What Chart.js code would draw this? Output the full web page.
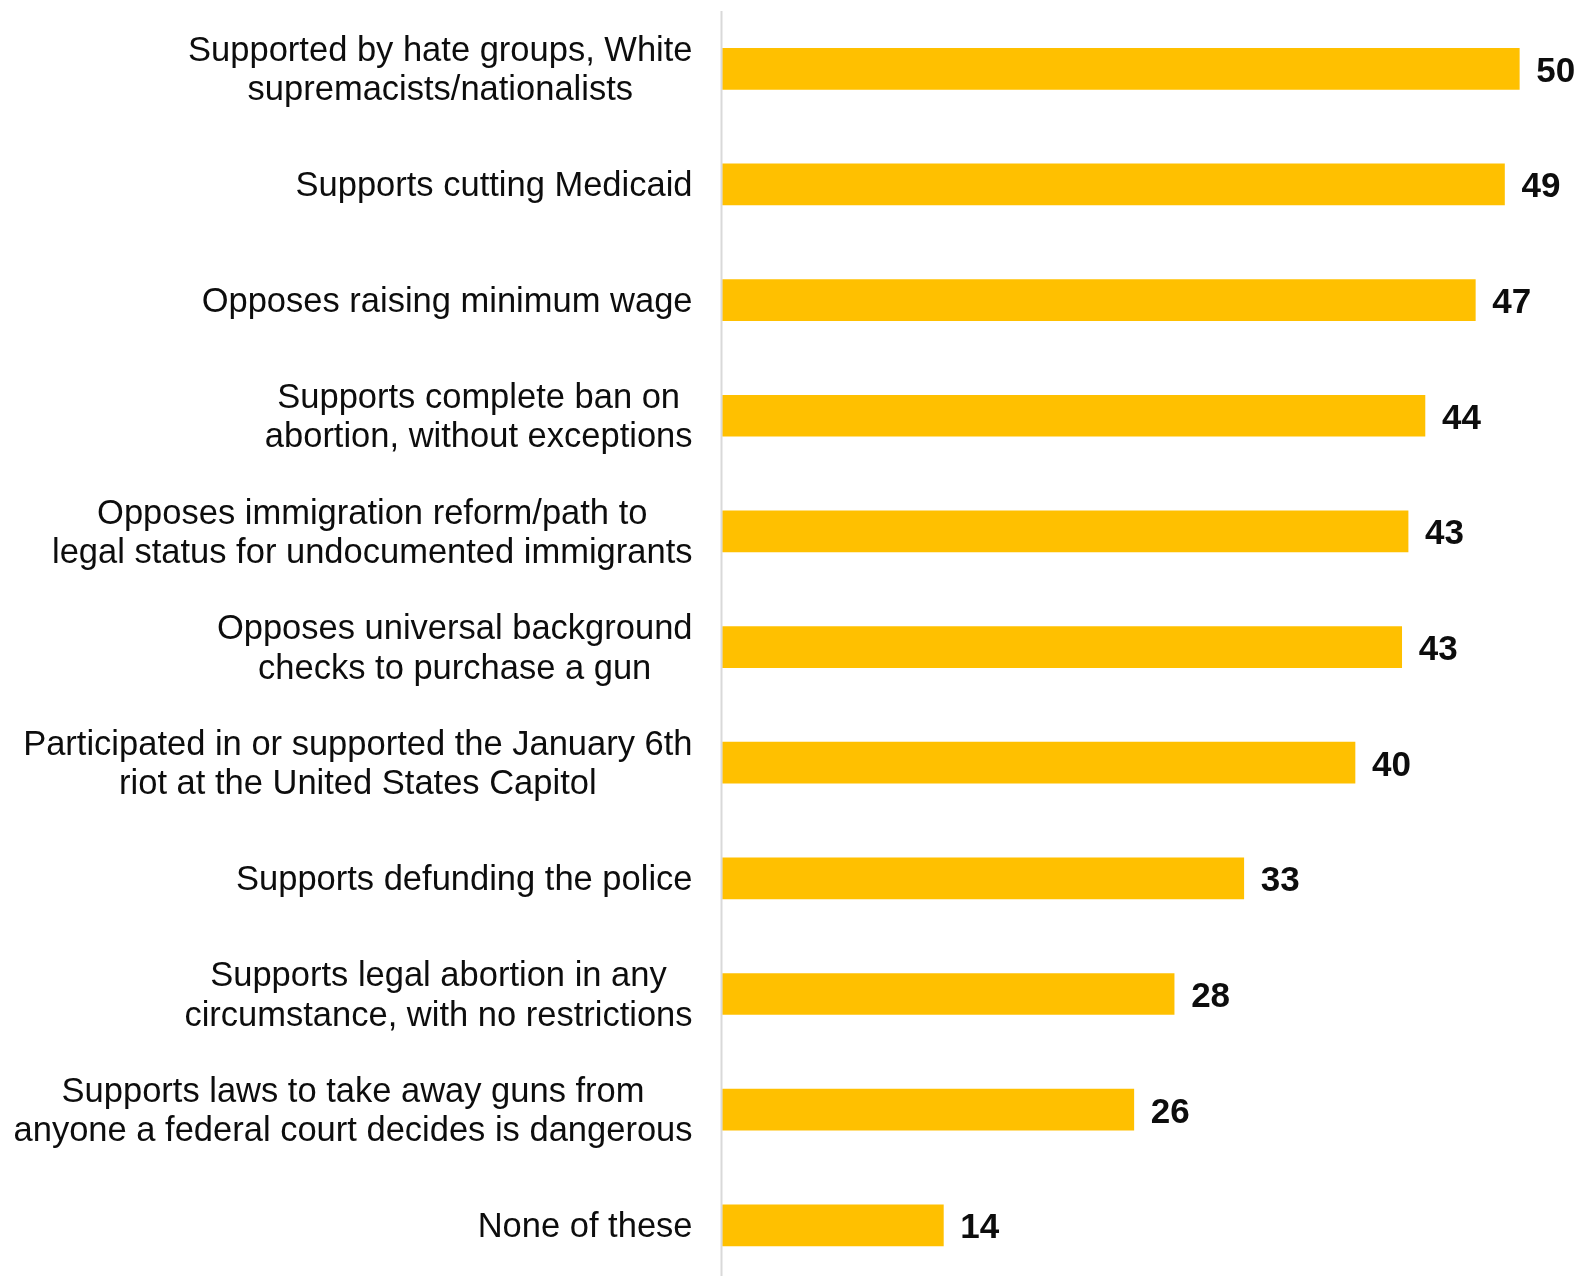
<!DOCTYPE html>
<html>
<head>
<meta charset="utf-8">
<script src="https://cdn.jsdelivr.net/npm/chart.js@4/dist/chart.umd.min.js"></script>
<style>
html,body{margin:0;padding:0;background:#fff;overflow:hidden;}
#wrap{width:1580px;height:1276px;position:relative;}
</style>
</head>
<body>
<div id="wrap"><canvas id="c" width="1580" height="1276"></canvas></div>
<script>
const categories = [
  ["Supported by hate groups, White", "supremacists/nationalists"],
  ["Supports cutting Medicaid"],
  ["Opposes raising minimum wage"],
  ["Supports complete ban on ", "abortion, without exceptions"],
  ["Opposes immigration reform/path to ", "legal status for undocumented immigrants"],
  ["Opposes universal background", "checks to purchase a gun"],
  ["Participated in or supported the January 6th", "riot at the United States Capitol"],
  ["Supports defunding the police"],
  ["Supports legal abortion in any", "circumstance, with no restrictions"],
  ["Supports laws to take away guns from", "anyone a federal court decides is dangerous"],
  ["None of these"]
];
// bar lengths (unrounded)
const values = [50, 49.07, 47.24, 44.08, 43.02, 42.62, 39.69, 32.71, 28.34, 25.81, 13.86];
// printed value labels
const valueLabels = ["50", "49", "47", "44", "43", "43", "40", "33", "28", "26", "14"];

const FONT = "'Liberation Sans', Arial, sans-serif";

const customDraw = {
  id: 'customDraw',
  afterDatasetsDraw(chart) {
    const ctx = chart.ctx;
    const area = chart.chartArea;
    const yScale = chart.scales.y;
    const meta = chart.getDatasetMeta(0);
    ctx.save();
    // axis line
    ctx.strokeStyle = '#d9d9d9';
    ctx.lineWidth = 2;
    ctx.beginPath();
    ctx.moveTo(area.left - 1, 11);
    ctx.lineTo(area.left - 1, chart.height);
    ctx.stroke();
    // category labels (block right-aligned, lines centered)
    ctx.fillStyle = '#0d0d0d';
    ctx.font = '34.5px ' + FONT;
    ctx.textBaseline = 'alphabetic';
    ctx.textAlign = 'center';
    const lh = 39.3;
    const rightEdge = area.left - 30;
    categories.forEach((lines, i) => {
      const yc = yScale.getPixelForValue(i);
      let maxW = 0;
      lines.forEach(l => { maxW = Math.max(maxW, ctx.measureText(l.trimEnd()).width); });
      const cx = rightEdge - maxW / 2;
      lines.forEach((l, j) => {
        const y = yc + 12 + (j - (lines.length - 1) / 2) * lh;
        ctx.fillText(l.trimEnd(), cx, y);
      });
    });
    // value labels
    ctx.font = 'bold 35px ' + FONT;
    ctx.textAlign = 'left';
    ctx.fillStyle = '#0d0d0d';
    meta.data.forEach((bar, i) => {
      ctx.fillText(valueLabels[i], bar.x + 17, bar.y + 13);
    });
    ctx.restore();
  }
};

new Chart(document.getElementById('c'), {
  type: 'bar',
  data: {
    labels: categories,
    datasets: [{
      data: values,
      backgroundColor: '#FFC000',
      borderWidth: 0,
      barThickness: 41,
      clip: false
    }]
  },
  options: {
    indexAxis: 'y',
    responsive: false,
    animation: false,
    devicePixelRatio: 1,
    layout: { padding: { left: 722.5, right: 60.7, top: 68.8, bottom: 50.7 } },
    plugins: { legend: { display: false }, tooltip: { enabled: false } },
    scales: {
      x: { display: false, min: 0, max: 50 },
      y: { display: false, offset: false }
    }
  },
  plugins: [customDraw]
});
</script>
</body>
</html>
